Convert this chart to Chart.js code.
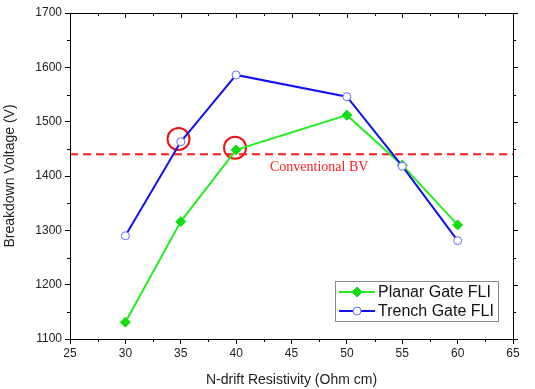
<!DOCTYPE html>
<html>
<head>
<meta charset="utf-8">
<script src="https://cdn.jsdelivr.net/npm/chart.js@4.4.1/dist/chart.umd.min.js"></script>
<style>
  html,body{margin:0;padding:0;background:#fff}
  #wrap{width:535px;height:389px;position:relative}
</style>
</head>
<body>
<div id="wrap"><canvas id="myChart" width="535" height="389"></canvas></div>
<script>
// data
const resistivity = [30, 35, 40, 50, 55, 60]
const planarGate = [1131, 1316, 1448, 1512, 1420, 1310]
const trenchGate = [1290, 1463, 1586, 1546, 1418, 1281]
const conventionalBV = 1440
const highlightX = [34.8, 39.9]
const highlightY = [1468, 1452]
const xTicks = [25, 30, 35, 40, 45, 50, 55, 60, 65]
const yTicks = [1100, 1200, 1300, 1400, 1500, 1600, 1700]

function pts(xs, ys) {
  return xs.map((x, i) => ({x: x, y: ys[i]}))
}

// frame, mirrored ticks, minor ticks, text label and legend
const extras = {
  id: 'extras',
  afterDraw(chart) {
    const ctx = chart.ctx
    const a = chart.chartArea
    const xs = chart.scales.x, ys = chart.scales.y
    ctx.save()
    ctx.strokeStyle = '#000'
    ctx.lineWidth = 1
    ctx.strokeRect(a.left + 0.5, a.top + 0.5, a.right - a.left, a.bottom - a.top)
    ctx.beginPath()
    xTicks.forEach((v, i) => {
      let px = Math.round(xs.getPixelForValue(v)) + 0.5
      ctx.moveTo(px, a.top); ctx.lineTo(px, a.top + 5)
      if (i < xTicks.length - 1) {
        let mx = Math.round(xs.getPixelForValue(v + 2.5)) + 0.5
        ctx.moveTo(mx, a.bottom); ctx.lineTo(mx, a.bottom + 3)
        ctx.moveTo(mx, a.top); ctx.lineTo(mx, a.top + 3)
      }
    })
    yTicks.forEach((v, i) => {
      let py = Math.round(ys.getPixelForValue(v)) + 0.5
      ctx.moveTo(a.right, py); ctx.lineTo(a.right + 5, py)
      if (i < yTicks.length - 1) {
        let my = Math.round(ys.getPixelForValue(v + 50)) + 0.5
        ctx.moveTo(a.left, my); ctx.lineTo(a.left - 3, my)
        ctx.moveTo(a.right, my); ctx.lineTo(a.right + 3, my)
      }
    })
    ctx.stroke()

    // label under the dashed line
    ctx.fillStyle = '#ff2020'
    ctx.font = '14px "Liberation Serif"'
    ctx.textAlign = 'center'
    ctx.textBaseline = 'middle'
    ctx.fillText('Conventional BV', xs.getPixelForValue(47.5), ys.getPixelForValue(1416))

    // legend box inside the plot
    const lx = 335, ly = 281, lw = 163, lh = 40
    ctx.fillStyle = '#fff'
    ctx.fillRect(lx, ly, lw, lh)
    ctx.strokeStyle = '#888'
    ctx.strokeRect(lx + 0.5, ly + 0.5, lw, lh)
    const items = [chart.data.datasets[1], chart.data.datasets[0]]
    items.forEach((ds, i) => {
      let cy = ly + 11 + i * 19
      ctx.strokeStyle = ds.borderColor
      ctx.lineWidth = 2
      ctx.beginPath(); ctx.moveTo(lx + 4, cy); ctx.lineTo(lx + 40, cy); ctx.stroke()
      ctx.lineWidth = 1
      ctx.fillStyle = ds.pointBackgroundColor
      ctx.strokeStyle = ds.pointBorderColor
      ctx.beginPath()
      if (ds.pointStyle === 'rectRot') {
        ctx.moveTo(lx + 22, cy - 5); ctx.lineTo(lx + 27, cy); ctx.lineTo(lx + 22, cy + 5); ctx.lineTo(lx + 17, cy)
        ctx.closePath()
      } else {
        ctx.arc(lx + 22, cy, 4, 0, Math.PI * 2)
      }
      ctx.fill(); ctx.stroke()
      ctx.fillStyle = '#111'
      ctx.font = '16px "Liberation Sans"'
      ctx.textAlign = 'left'
      ctx.fillText(ds.label, lx + 43, cy + 1)
    })
    ctx.restore()
  }
}

var ctx = document.getElementById('myChart').getContext('2d')
var myChart = new Chart(ctx, {
  type: 'line',
  data: {
    datasets: [
      {
        label: 'Trench Gate FLI',
        data: pts(resistivity, trenchGate),
        borderColor: '#1010f0',
        borderWidth: 2,
        pointStyle: 'circle',
        pointRadius: 4,
        pointBackgroundColor: '#fff',
        pointBorderColor: '#6a6aff',
        pointBorderWidth: 1
      },
      {
        label: 'Planar Gate FLI',
        data: pts(resistivity, planarGate),
        borderColor: '#22ee22',
        borderWidth: 2,
        pointStyle: 'rectRot',
        pointRadius: 5,
        pointBackgroundColor: '#11dd11',
        pointBorderColor: '#11dd11',
        pointBorderWidth: 1
      },
      {
        label: 'Conventional BV',
        data: pts([25, 65], [conventionalBV, conventionalBV]),
        borderColor: '#ff1a1a',
        borderWidth: 2,
        borderDash: [8, 5],
        pointRadius: 0
      },
      {
        label: 'highlight',
        data: pts(highlightX, highlightY),
        showLine: false,
        pointStyle: 'circle',
        pointRadius: 11,
        pointBackgroundColor: 'rgba(0,0,0,0)',
        pointBorderColor: '#ee1111',
        pointBorderWidth: 2
      }
    ]
  },
  options: {
    responsive: false,
    animation: false,
    layout: {padding: {left: 0, right: 22, top: 13, bottom: 0}},
    plugins: {legend: {display: false}, tooltip: {enabled: false}},
    scales: {
      x: {
        type: 'linear',
        min: 25, max: 65,
        afterFit(s) { s.height = 50 },
        afterBuildTicks(s) { s.ticks = xTicks.map(v => ({value: v})) },
        grid: {drawOnChartArea: false, tickLength: 5, color: '#000'},
        border: {color: '#000'},
        ticks: {color: '#222', font: {family: 'Liberation Sans', size: 12}, padding: 2, maxRotation: 0,
          callback: v => String(v)},
        title: {display: true, text: 'N-drift Resistivity (Ohm cm)', color: '#222', font: {family: 'Liberation Sans', size: 14}, padding: {top: 4, bottom: 0}}
      },
      y: {
        min: 1100, max: 1700,
        afterFit(s) { s.width = 70 },
        afterBuildTicks(s) { s.ticks = yTicks.map(v => ({value: v})) },
        grid: {drawOnChartArea: false, tickLength: 5, color: '#000'},
        border: {color: '#000'},
        ticks: {color: '#222', font: {family: 'Liberation Sans', size: 12}, padding: 3,
          callback: v => String(v)},
        title: {display: true, text: 'Breakdown Voltage (V)', color: '#222', font: {family: 'Liberation Sans', size: 14}, padding: {top: 2, bottom: 2}}
      }
    }
  },
  plugins: [extras]
})
</script>
</body>
</html>
